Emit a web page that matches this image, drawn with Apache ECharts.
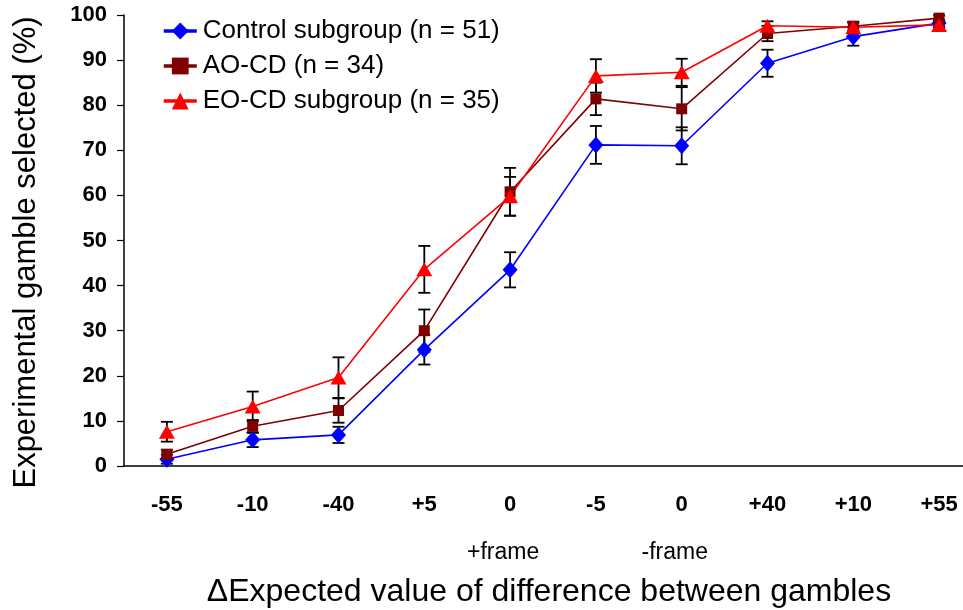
<!DOCTYPE html>
<html>
<head>
<meta charset="utf-8">
<script src="https://cdn.jsdelivr.net/npm/echarts@6/dist/echarts.min.js"></script>
<style>html,body{margin:0;padding:0;background:#fff}#c{width:963px;height:610px}</style>
</head>
<body>
<div id="c"></div>
<script>
const categories = ['-55','-10','-40','+5','0','-5','0','+40','+10','+55'];
const subLabels = ['','','','','+frame','','-frame','','',''];
const yTicks = [0,10,20,30,40,50,60,70,80,90,100];

const control    = [1.5, 5.8, 6.9, 25.8, 43.5, 71.2, 71.0, 89.3, 95.2, 98.2];
const controlErr = [1.0, 1.6, 1.8, 3.3, 3.9, 4.2, 4.1, 3.0, 2.0, 0.7];
const aocd       = [2.6, 8.8, 12.3, 30.0, 60.8, 81.4, 79.2, 95.9, 97.5, 99.3];
const aocdErr    = [1.0, 1.4, 2.7, 4.7, 5.3, 3.6, 4.8, 1.7, 1.0, 0.6];
const eocd       = [7.6, 13.2, 19.6, 43.6, 59.8, 86.5, 87.3, 97.6, 97.3, 97.8];
const eocdErr    = [2.2, 3.3, 4.5, 5.2, 4.3, 3.7, 3.0, 1.0, 1.0, 0.6];

const FONT = '"Liberation Sans", Arial, sans-serif';

function errData(vals, errs) {
  return vals.map((v, i) => [i, v - errs[i], v + errs[i]]);
}
function errSeries(vals, errs) {
  return {
    type: 'custom',
    z: 1,
    silent: true,
    data: errData(vals, errs),
    encode: { x: 0, y: [1, 2] },
    renderItem: function (params, api) {
      const lo = api.coord([api.value(0), api.value(1)]);
      const hi = api.coord([api.value(0), api.value(2)]);
      const hw = 6;
      const st = { stroke: '#000', lineWidth: 1.8 };
      return {
        type: 'group',
        children: [
          { type: 'line', shape: { x1: lo[0], y1: lo[1], x2: hi[0], y2: hi[1] }, style: st },
          { type: 'line', shape: { x1: lo[0]-hw, y1: lo[1], x2: lo[0]+hw, y2: lo[1] }, style: st },
          { type: 'line', shape: { x1: hi[0]-hw, y1: hi[1], x2: hi[0]+hw, y2: hi[1] }, style: st }
        ]
      };
    }
  };
}

const chart = echarts.init(document.getElementById('c'), null, { renderer: 'canvas' });
chart.setOption({
  animation: false,
  backgroundColor: '#fff',
  textStyle: { fontFamily: FONT },
  legend: {
    orient: 'vertical',
    left: 157,
    top: 13,
    itemWidth: 33,
    itemHeight: 21,
    itemGap: 9,
    lineStyle: { width: 3.5 },
    textStyle: { fontFamily: FONT, fontSize: 26, color: '#000', padding: [0, 0, 0, 1] },
    data: ['Control subgroup (n = 51)', 'AO-CD (n = 34)', 'EO-CD subgroup (n = 35)']
  },
  grid: { left: 124, top: 15, bottom: 144, width: 858, containLabel: false, outerBoundsMode: 'none' },
  xAxis: {
    type: 'category',
    data: categories,
    boundaryGap: true,
    name: '\u0394Expected value of difference between gambles',
    nameLocation: 'middle',
    nameGap: 110,
    nameTextStyle: { fontFamily: FONT, fontSize: 32, color: '#000', padding: [0, 8, 0, 0] },
    axisLine: { lineStyle: { color: '#000', width: 1.5 } },
    axisTick: { length: 8, lineStyle: { color: '#000', width: 1.2 } },
    axisLabel: {
      margin: 26,
      interval: 0,
      formatter: function (val, idx) {
        return subLabels[idx] ? '{b|' + val + '}\n{f|' + subLabels[idx] + '}' : '{b|' + val + '}';
      },
      rich: {
        b: { fontFamily: FONT, fontSize: 22, fontWeight: 'bold', color: '#000', lineHeight: 25 },
        f: { fontFamily: FONT, fontSize: 23, color: '#000', lineHeight: 72, padding: [0, 14, 0, 0] }
      }
    },
    splitLine: { show: false }
  },
  yAxis: {
    type: 'value',
    min: 0, max: 100, interval: 10,
    name: 'Experimental gamble selected (%)',
    nameLocation: 'middle',
    nameGap: 82,
    nameTextStyle: { fontFamily: FONT, fontSize: 31, color: '#000', padding: [0, 24, 0, 0] },
    axisLine: { show: true, lineStyle: { color: '#000', width: 1.5 } },
    axisTick: { show: true, length: 7, lineStyle: { color: '#000', width: 1.2 } },
    axisLabel: {
      margin: 17,
      fontFamily: FONT, fontSize: 22, fontWeight: 'bold', color: '#000',
      formatter: function (v) { return yTicks.indexOf(v) >= 0 ? String(v) : ''; }
    },
    splitLine: { show: false }
  },
  series: [
    errSeries(control, controlErr),
    errSeries(aocd, aocdErr),
    errSeries(eocd, eocdErr),
    {
      name: 'Control subgroup (n = 51)', type: 'line', z: 3, data: control,
      symbol: 'diamond', symbolSize: [15, 17],
      itemStyle: { color: '#0000FF' }, lineStyle: { color: '#0000FF', width: 1.6 }
    },
    {
      name: 'AO-CD (n = 34)', type: 'line', z: 3, data: aocd,
      symbol: 'rect', symbolSize: 11,
      itemStyle: { color: '#800000' }, lineStyle: { color: '#800000', width: 1.6 }
    },
    {
      name: 'EO-CD subgroup (n = 35)', type: 'line', z: 3, data: eocd,
      symbol: 'triangle', symbolSize: [16, 14],
      itemStyle: { color: '#FF0000' }, lineStyle: { color: '#FF0000', width: 1.6 }
    }
  ]
});
</script>
</body>
</html>
